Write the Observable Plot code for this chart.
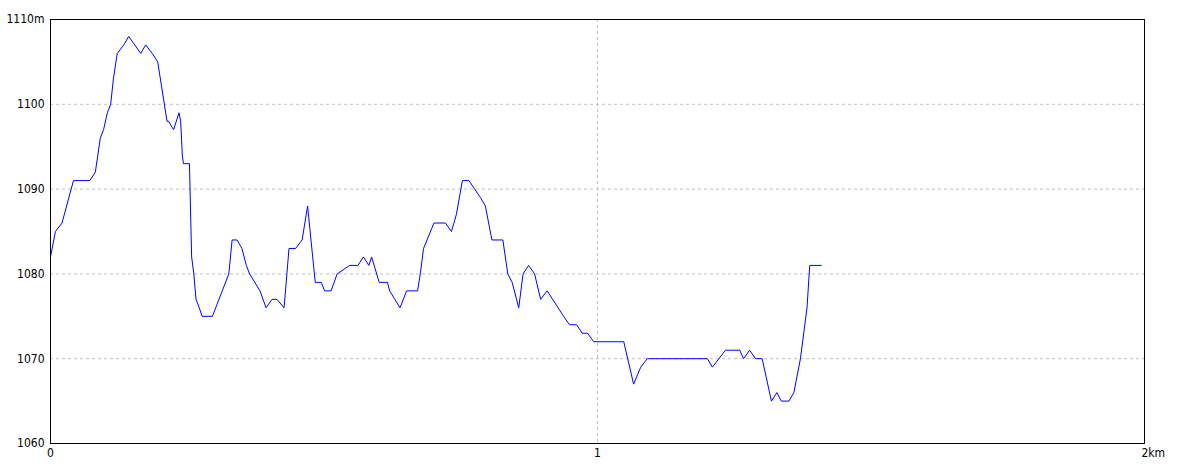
<!DOCTYPE html>
<html>
<head>
<meta charset="utf-8">
<script src="https://cdn.jsdelivr.net/npm/d3@7"></script>
<script src="https://cdn.jsdelivr.net/npm/@observablehq/plot@0.6"></script>
<style>
  html, body { margin: 0; padding: 0; background: #ffffff; }
  #chart svg { display: block; }
</style>
</head>
<body>
<div id="chart"></div>
<script>
// Distance along the route (km)
const distanceKm = [
  0.000, 0.009, 0.021, 0.042, 0.072, 0.082, 0.091, 0.097, 0.104, 0.110,
  0.115, 0.122, 0.134, 0.143, 0.165, 0.174, 0.186, 0.196, 0.213, 0.216,
  0.225, 0.235, 0.238, 0.241, 0.243, 0.254, 0.258, 0.262, 0.266, 0.272,
  0.277, 0.296, 0.326, 0.332, 0.341, 0.350, 0.358, 0.364, 0.383, 0.394,
  0.405, 0.414, 0.427, 0.436, 0.448, 0.460, 0.470, 0.484, 0.495, 0.501,
  0.513, 0.524, 0.547, 0.562, 0.572, 0.582, 0.587, 0.601, 0.616, 0.620,
  0.639, 0.651, 0.671, 0.676, 0.682, 0.701, 0.722, 0.733, 0.742, 0.753,
  0.765, 0.786, 0.795, 0.807, 0.827, 0.836, 0.844, 0.856, 0.864, 0.874,
  0.885, 0.896, 0.908, 0.938, 0.949, 0.962, 0.972, 0.982, 0.993, 1.048,
  1.066, 1.079, 1.091, 1.201, 1.210, 1.234, 1.260, 1.267, 1.278, 1.289,
  1.301, 1.318, 1.328, 1.336, 1.350, 1.359, 1.371, 1.383, 1.388, 1.409
];
// Elevation (m)
const elevationM = [
  1082, 1085, 1086, 1091, 1091, 1092, 1096, 1097, 1099, 1100,
  1103, 1106, 1107, 1108, 1106, 1107, 1106, 1105, 1098, 1098,
  1097, 1099, 1098, 1094, 1093, 1093, 1082, 1080, 1077, 1076,
  1075, 1075, 1080, 1084, 1084, 1083, 1081, 1080, 1078, 1076,
  1077, 1077, 1076, 1083, 1083, 1084, 1088, 1079, 1079, 1078,
  1078, 1080, 1081, 1081, 1082, 1081, 1082, 1079, 1079, 1078,
  1076, 1078, 1078, 1080, 1083, 1086, 1086, 1085, 1087, 1091,
  1091, 1089, 1088, 1084, 1084, 1080, 1079, 1076, 1080, 1081,
  1080, 1077, 1078, 1075, 1074, 1074, 1073, 1073, 1072, 1072,
  1067, 1069, 1070, 1070, 1069, 1071, 1071, 1070, 1071, 1070,
  1070, 1065, 1066, 1065, 1065, 1066, 1070, 1076, 1081, 1081
];
const yTicks = [1060, 1070, 1080, 1090, 1100, 1110];
const yGrid = [1070, 1080, 1090, 1100];
const xTicksCentered = [0, 1];
const xTickEnd = [2];
const xGrid = [1];

const data = distanceKm.map((d, i) => ({ d, e: elevationM[i] }));

const chart = Plot.plot({
  width: 1184,
  height: 473,
  marginLeft: 50,
  marginRight: 40,
  marginTop: 19,
  marginBottom: 30,
  style: {
    fontFamily: "'Liberation Sans Narrow', 'DejaVu Sans Condensed', sans-serif",
    fontSize: "12px",
    color: "#000",
    background: "#fff"
  },
  x: { domain: [0, 2] },
  y: { domain: [1060, 1110] },
  marks: [
    Plot.gridY(yGrid, { stroke: "#c0c0c0", strokeOpacity: 1, strokeDasharray: "3,3" }),
    Plot.gridX(xGrid, { stroke: "#c0c0c0", strokeOpacity: 1, strokeDasharray: "3,3" }),
    Plot.line(data, { x: "d", y: "e", stroke: "#0000ff", strokeWidth: 1 }),
    Plot.frame({ stroke: "#000", strokeWidth: 1 }),
    Plot.axisY(yTicks, {
      tickSize: 0,
      tickPadding: 6,
      tickFormat: (v) => (v === 1110 ? "1110m" : String(v)),
      label: null
    }),
    Plot.axisX(xTicksCentered, {
      tickSize: 0,
      tickPadding: 5,
      tickFormat: (v) => String(v),
      label: null
    }),
    Plot.axisX(xTickEnd, {
      tickSize: 0,
      tickPadding: 5,
      tickFormat: (v) => v + "km",
      textAnchor: "start",
      dx: -3,
      label: null
    })
  ]
});
document.getElementById("chart").appendChild(chart);
</script>
</body>
</html>
